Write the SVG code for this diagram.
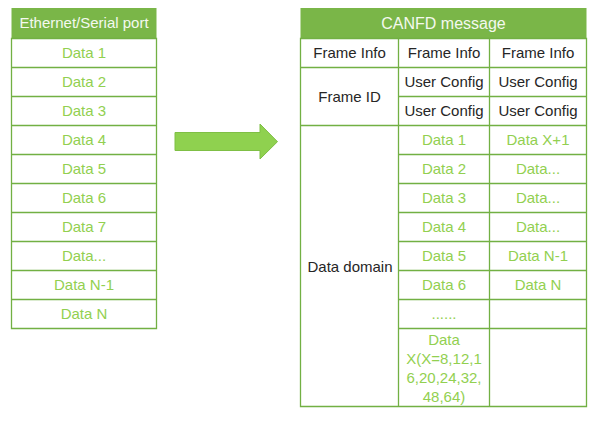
<svg xmlns="http://www.w3.org/2000/svg" width="598" height="423" viewBox="0 0 598 423">
<style>
  text { font-family: "Liberation Sans", Arial, sans-serif; font-size: 15px; text-anchor: middle; }
  .hd { fill: #7ab648; }
  .ht { fill: #f4f9ef; }
  .g { fill: #92d050; }
  .k { fill: #262626; }
  .ln { stroke: #72b043; stroke-width: 1.3; fill: none; }
</style>
<rect width="598" height="423" fill="#ffffff"/>

<g id="serial-table">
  <rect class="hd" x="11.5" y="8" width="145" height="30.5"/>
  <text class="ht" x="84" y="28">Ethernet/Serial port</text>
  <path class="ln" d="M11.5 38.5H156.5V328.5H11.5Z M11.5 67.5H156.5 M11.5 96.5H156.5 M11.5 125.5H156.5 M11.5 154.5H156.5 M11.5 183.5H156.5 M11.5 212.5H156.5 M11.5 241.5H156.5 M11.5 270.5H156.5 M11.5 299.5H156.5"/>
  <text class="g" x="84" y="58">Data 1</text>
  <text class="g" x="84" y="87">Data 2</text>
  <text class="g" x="84" y="116">Data 3</text>
  <text class="g" x="84" y="145">Data 4</text>
  <text class="g" x="84" y="174">Data 5</text>
  <text class="g" x="84" y="203">Data 6</text>
  <text class="g" x="84" y="232">Data 7</text>
  <text class="g" x="84" y="261">Data...</text>
  <text class="g" x="84" y="290">Data N-1</text>
  <text class="g" x="84" y="319">Data N</text>
</g>

<g id="connectors">
  <path id="arrow" d="M175 132.5H260V124L277.5 141.7L260 159V150.5H175Z" fill="#8fd14f" stroke="#7fbf45" stroke-width="1"/>
</g>

<g id="canfd-table">
  <rect class="hd" x="300.5" y="8" width="286" height="30.5"/>
  <text class="ht" x="443.5" y="29" style="font-size:16px">CANFD message</text>
  <path class="ln" d="M300.5 38.5H586.5V406.5H300.5Z M398.5 38.5V406.5 M489.5 38.5V406.5 M300.5 67.5H586.5 M398.5 96.5H586.5 M300.5 125.5H586.5 M398.5 154.5H586.5 M398.5 183.5H586.5 M398.5 212.5H586.5 M398.5 241.5H586.5 M398.5 270.5H586.5 M398.5 299.5H586.5 M398.5 328.5H586.5"/>
  <text class="k" x="349.5" y="58">Frame Info</text>
  <text class="k" x="444" y="58">Frame Info</text>
  <text class="k" x="538" y="58">Frame Info</text>
  <text class="k" x="349.5" y="102">Frame ID</text>
  <text class="k" x="444" y="87">User Config</text>
  <text class="k" x="538" y="87">User Config</text>
  <text class="k" x="444" y="116">User Config</text>
  <text class="k" x="538" y="116">User Config</text>
  <text class="k" x="350" y="272">Data domain</text>
  <text class="g" x="444" y="145">Data 1</text>
  <text class="g" x="444" y="174">Data 2</text>
  <text class="g" x="444" y="203">Data 3</text>
  <text class="g" x="444" y="232">Data 4</text>
  <text class="g" x="444" y="261">Data 5</text>
  <text class="g" x="444" y="290">Data 6</text>
  <text class="g" x="444" y="319">......</text>
  <text class="g" x="444" y="345">Data</text>
  <text class="g" x="444" y="364">X(X=8,12,1</text>
  <text class="g" x="444" y="383">6,20,24,32,</text>
  <text class="g" x="444" y="402">48,64)</text>
  <text class="g" x="538" y="145">Data X+1</text>
  <text class="g" x="538" y="174">Data...</text>
  <text class="g" x="538" y="203">Data...</text>
  <text class="g" x="538" y="232">Data...</text>
  <text class="g" x="538" y="261">Data N-1</text>
  <text class="g" x="538" y="290">Data N</text>
</g>
</svg>
